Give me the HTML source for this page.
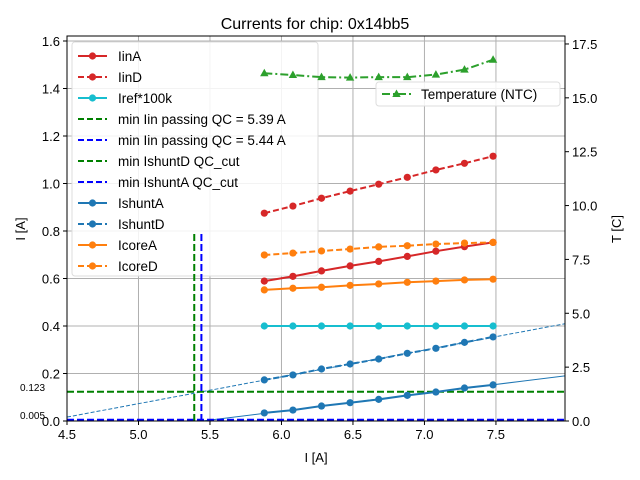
<!DOCTYPE html>
<html><head><meta charset="utf-8"><style>
body{margin:0;background:#fff}
svg{display:block;font-family:"Liberation Sans","DejaVu Sans",sans-serif}
</style></head><body>
<svg id="chart" width="640" height="480" xmlns="http://www.w3.org/2000/svg">
<rect width="640" height="480" fill="#fff"/>
<text x="315" y="29" font-size="16" text-anchor="middle">Currents for chip: 0x14bb5</text>
<g id="grid"></g>
<g id="legbg"></g>
<g id="marks"></g>
<g id="axes"></g>
<g id="legend"></g>
</svg>
<script>
const xVals=[5.88,6.08,6.28,6.48,6.68,6.88,7.08,7.28,7.48];
const iinA=[0.589,0.609,0.632,0.653,0.672,0.693,0.715,0.734,0.752];
const iinD=[0.875,0.905,0.938,0.968,0.997,1.026,1.057,1.085,1.115];
const irefScaled=[0.4,0.4,0.4,0.4,0.4,0.4,0.4,0.4,0.4];
const ishuntA=[0.034,0.046,0.063,0.077,0.091,0.108,0.122,0.139,0.152];
const ishuntD=[0.173,0.194,0.219,0.240,0.261,0.285,0.306,0.331,0.354];
const icoreA=[0.552,0.559,0.563,0.571,0.577,0.584,0.589,0.594,0.597];
const icoreD=[0.699,0.707,0.716,0.724,0.733,0.738,0.745,0.749,0.752];
const tempNTC=[16.14,16.06,15.96,15.94,15.96,15.96,16.08,16.31,16.77];
const minIinGreen=5.39, minIinBlue=5.44;
const cutIshuntD=0.123, cutIshuntA=0.005;
const xTicks=[4.5,5.0,5.5,6.0,6.5,7.0,7.5];
const yTicks=[0.0,0.2,0.4,0.6,0.8,1.0,1.2,1.4,1.6];
const tTicks=[0.0,2.5,5.0,7.5,10.0,12.5,15.0,17.5];

const L=67,R=565,T=36,B=421;
const xMin=4.5,xMax=7.983,yMin=0,yMax=1.621,tMin=0,tMax=17.87;
const sx=v=>L+(v-xMin)/(xMax-xMin)*(R-L);
const sy=v=>B-(v-yMin)/(yMax-yMin)*(B-T);
const st=v=>B-(v-tMin)/(tMax-tMin)*(B-T);
const NS="http://www.w3.org/2000/svg";
function mk(tag,attrs,parent){const e=document.createElementNS(NS,tag);for(const k in attrs)e.setAttribute(k,attrs[k]);parent.appendChild(e);return e;}
const grid=document.getElementById('grid'),marks=document.getElementById('marks'),axes=document.getElementById('axes'),leg=document.getElementById('legend'),legbg=document.getElementById('legbg');

xTicks.forEach(v=>{const g=mk('line',{x1:sx(v),x2:sx(v),y1:T,y2:B,stroke:'#b0b0b0','stroke-width':1},grid);
});
yTicks.forEach(v=>{const g=mk('line',{x1:L,x2:R,y1:sy(v),y2:sy(v),stroke:'#b0b0b0','stroke-width':1},grid);
});

const defs=mk('defs',{},marks);const cp=mk('clipPath',{id:'pc'},defs);mk('rect',{x:L,y:T,width:R-L,height:B-T},cp);
const plot=mk('g',{'clip-path':'url(#pc)'},marks);

function fit(xs,ys){const n=xs.length;let mx=0,my=0;xs.forEach((x,i)=>{mx+=x;my+=ys[i];});mx/=n;my/=n;let sxy=0,sxx=0;xs.forEach((x,i)=>{sxy+=(x-mx)*(ys[i]-my);sxx+=(x-mx)*(x-mx);});const m=sxy/sxx;return [m,my-m*mx];}
const fa=fit(xVals,ishuntA);const x0a=Math.max(xMin,-fa[1]/fa[0]);
let f=mk('line',{x1:sx(x0a),y1:sy(fa[0]*x0a+fa[1]),x2:sx(xMax),y2:sy(fa[0]*xMax+fa[1]),stroke:'#1f77b4','stroke-width':1},plot);

const fd=fit(xVals,ishuntD);
f=mk('line',{x1:sx(xMin),y1:sy(fd[0]*xMin+fd[1]),x2:sx(xMax),y2:sy(fd[0]*xMax+fd[1]),stroke:'#1f77b4','stroke-width':1,'stroke-dasharray':'4,2'},plot);


function ref(attrs,name){const e=mk('line',attrs,plot);}
ref({x1:L,x2:R,y1:sy(cutIshuntD),y2:sy(cutIshuntD),stroke:'#008000','stroke-width':2,'stroke-dasharray':'7,3'},'ishuntd-cut-line');
ref({x1:L,x2:R,y1:sy(cutIshuntA),y2:sy(cutIshuntA),stroke:'#0000ff','stroke-width':2,'stroke-dasharray':'7,3'},'ishunta-cut-line');
ref({x1:sx(minIinGreen),x2:sx(minIinGreen),y1:sy(0),y2:sy(0.8),stroke:'#008000','stroke-width':2,'stroke-dasharray':'7,3'},'min-iin-green-line');
ref({x1:sx(minIinBlue),x2:sx(minIinBlue),y1:sy(0),y2:sy(0.8),stroke:'#0000ff','stroke-width':2,'stroke-dasharray':'7,3'},'min-iin-blue-line');

function series(ys,scale,color,dash,marker,name){
  const g=mk('g',{},plot);
  const pts=xVals.map((x,i)=>sx(x)+','+scale(ys[i])).join(' ');
  const a={points:pts,fill:'none',stroke:color,'stroke-width':2};if(dash)a['stroke-dasharray']=dash;
  mk('polyline',a,g);
  xVals.forEach((x,i)=>{let m;const cx=sx(x),cy=scale(ys[i]);
    if(marker==='tri'){m=mk('polygon',{points:`${cx},${cy-4.5} ${cx-4.2},${cy+3} ${cx+4.2},${cy+3}`,fill:color},g);}
    else{m=mk('circle',{cx:cx,cy:cy,r:3.6,fill:color},g);}
    });
}
series(iinA,sy,'#d62728',null,'o','iina-series');
series(iinD,sy,'#d62728','6,3','o','iind-series');
series(irefScaled,sy,'#17becf',null,'o','iref-series');
series(ishuntA,sy,'#1f77b4',null,'o','ishunta-series');
series(ishuntD,sy,'#1f77b4','6,3','o','ishuntd-series');
series(icoreA,sy,'#ff7f0e',null,'o','icorea-series');
series(icoreD,sy,'#ff7f0e','6,3','o','icored-series');
series(tempNTC,st,'#2ca02c','8,3,2,3','tri','temperature-series');

mk('rect',{x:L,y:T,width:R-L,height:B-T,fill:'none',stroke:'#000','stroke-width':1},axes);
xTicks.forEach(v=>{mk('line',{x1:sx(v),x2:sx(v),y1:B,y2:B+4,stroke:'#000'},axes);
 const t=mk('text',{x:sx(v),y:B+18,'font-size':13,'text-anchor':'middle'},axes);t.textContent=v.toFixed(1);
 });
yTicks.forEach(v=>{mk('line',{x1:L-4,x2:L,y1:sy(v),y2:sy(v),stroke:'#000'},axes);
 const t=mk('text',{x:L-7,y:sy(v)+5,'font-size':13,'text-anchor':'end'},axes);t.textContent=v.toFixed(1);
 });
tTicks.forEach(v=>{mk('line',{x1:R,x2:R+4,y1:st(v),y2:st(v),stroke:'#000'},axes);
 const t=mk('text',{x:R+7,y:st(v)+5,'font-size':13,'text-anchor':'start'},axes);t.textContent=v.toFixed(1);
 });
[[cutIshuntD,'0.123'],[cutIshuntA,'0.005']].forEach(([v,s])=>{const t=mk('text',{x:20,y:sy(v)-1,'font-size':10},axes);t.textContent=s;
 });
let t=mk('text',{x:316,y:462,'font-size':13,'text-anchor':'middle'},axes);t.textContent='I [A]';

t=mk('text',{x:0,y:0,'font-size':13,'text-anchor':'middle',transform:'translate(25,229) rotate(-90)'},axes);t.textContent='I [A]';

t=mk('text',{x:0,y:0,'font-size':13,'text-anchor':'middle',transform:'translate(621,229) rotate(-90)'},axes);t.textContent='T [C]';


// legend background sits behind data marks
mk('rect',{x:72,y:42,width:246,height:234,rx:3,fill:'#fff','fill-opacity':0.85,stroke:'#ddd'},legbg);
const entries=[['IinA','#d62728',null,1],['IinD','#d62728','6,3',1],['Iref*100k','#17becf',null,1],
['min Iin passing QC = 5.39 A','#008000','6,3',0],['min Iin passing QC = 5.44 A','#0000ff','6,3',0],
['min IshuntD QC_cut','#008000','6,3',0],['min IshuntA QC_cut','#0000ff','6,3',0],
['IshuntA','#1f77b4',null,1],['IshuntD','#1f77b4','6,3',1],['IcoreA','#ff7f0e',null,1],['IcoreD','#ff7f0e','6,3',1]];
entries.forEach((e,i)=>{const y=56+i*21;const g=mk('g',{},leg);
 
 const a={x1:78,x2:107,y1:y,y2:y,stroke:e[1],'stroke-width':2};if(e[2])a['stroke-dasharray']=e[2];mk('line',a,g);
 if(e[3])mk('circle',{cx:92.5,cy:y,r:3.6,fill:e[1]},g);
 const tx=mk('text',{x:118,y:y+5,'font-size':13.5},g);tx.textContent=e[0];});
mk('rect',{x:376,y:82,width:184,height:24,rx:3,fill:'#fff','fill-opacity':0.85,stroke:'#ddd'},legbg);
const tg=mk('g',{},leg);
mk('line',{x1:382,x2:411,y1:94,y2:94,stroke:'#2ca02c','stroke-width':2,'stroke-dasharray':'8,3,2,3'},tg);
mk('polygon',{points:'396.5,89.5 392.3,97 400.7,97',fill:'#2ca02c'},tg);
t=mk('text',{x:421,y:99,'font-size':13.5},tg);t.textContent='Temperature (NTC)';
</script>
</body></html>
